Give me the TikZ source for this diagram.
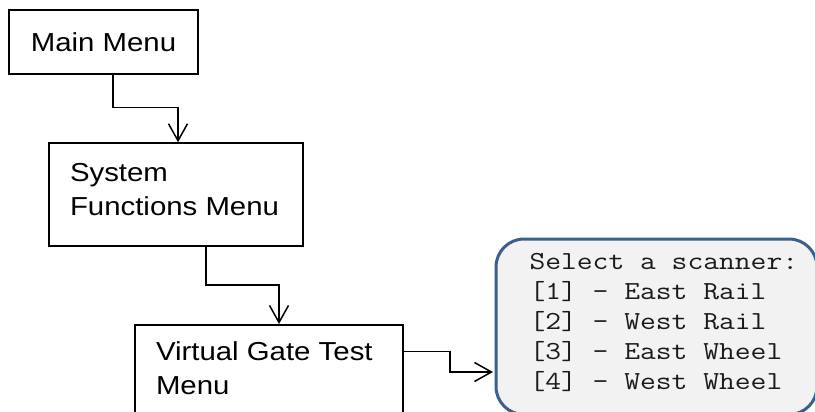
\documentclass[tikz,border=0pt]{standalone}
\usepackage{fontspec}
\setmainfont{Liberation Sans}
\newfontfamily\boxfont[FakeStretch=1.13]{Liberation Sans}
\newfontfamily\scanfont[FakeStretch=1.18]{Latin Modern Mono}
\usetikzlibrary{arrows.meta,calc}
\definecolor{scanblue}{HTML}{3B5F8E}
\definecolor{scanfill}{HTML}{F2F2F2}
\definecolor{scantext}{HTML}{1A1A1A}
\newcommand\myfixspace{\spaceskip=0pt\relax}
\begin{document}
\begin{tikzpicture}[x=1pt,y=-1pt,
  every node/.style={execute at begin node=\myfixspace},
  menubox/.style={draw, line width=1.5pt, inner sep=0pt,
    font=\boxfont\fontsize{26}{33.5}\selectfont},
  scanbox/.style={draw=scanblue, fill=scanfill, line width=3pt,
    rounded corners=28pt, inner ysep=0pt, align=left,
    font=\scanfont\fontsize{26}{30}\selectfont, text=scantext},
  conn/.style={line width=1.5pt,
    -{Straight Barb[length=17pt,width=19pt,line width=1.5pt]}}]
\useasboundingbox (0,0) rectangle (815,412);
\clip (0,0) rectangle (815,412);

\node[menubox, minimum width=189pt, minimum height=64pt] (main) at (103.5,42) {Main Menu};
\node[menubox, minimum width=254pt, minimum height=103pt, text width=212pt, align=left]
  (sys) at (176,194.5) {System\\Functions Menu\rule[-10pt]{0pt}{10pt}};
\node[menubox, minimum width=268pt, minimum height=90pt, text width=226pt, align=left, anchor=north]
  (vg) at (269,324) {Virtual Gate Test\\Menu\rule[-3pt]{0pt}{3pt}};
\node[scanbox, anchor=north west, minimum width=321pt, minimum height=175.5pt,
  text width=254pt, inner xsep=33.5pt]
  (scan) at (494.5,237.5)
  {\mbox{Select a scanner:}\\\mbox{[1] - East Rail}\\\mbox{[2] - West Rail}\\\mbox{[3] - East Wheel}\\\mbox{[4] - West Wheel}\rule[-11pt]{0pt}{11pt}};

\draw[conn] ([xshift=9.5pt]main.south) -- ++(0,33) -| ([xshift=2pt]sys.north);
\draw[conn] ([xshift=30pt]sys.south) -- ++(0,38) -| ([xshift=10pt]vg.north);
\draw[conn] ($(vg.north east)+(0,27.7)$) -- ++(46,0) |- ($(scan.north west)+(-1.5,134.5)$);
\end{tikzpicture}
\end{document}
